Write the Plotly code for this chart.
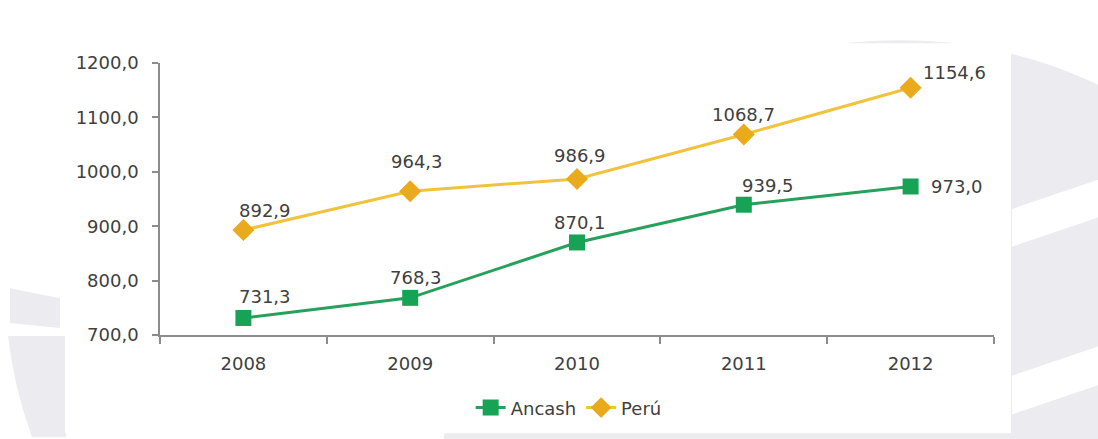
import plotly.graph_objects as go

# Series data
years = ["2008", "2009", "2010", "2011", "2012"]
ancash = [731.3, 768.3, 870.1, 939.5, 973.0]
peru = [892.9, 964.3, 986.9, 1068.7, 1154.6]
y_ticks = [700, 800, 900, 1000, 1100, 1200]

GREEN = "#17a356"
GREEN_LINE = "#27a05c"
GOLD = "#e9aa1c"
GOLD_LINE = "#f1c23d"
TEXT = "#404040"
AXIS = "#8c8c8c"
FONT = "DejaVu Sans"

xpos = list(range(len(years)))

fig = go.Figure()
fig.add_trace(go.Scatter(
    x=xpos, y=ancash, name="Ancash", mode="lines+markers",
    line=dict(color=GREEN_LINE, width=3),
    marker=dict(symbol="square", size=16, color=GREEN),
))
fig.add_trace(go.Scatter(
    x=xpos, y=peru, name="Perú", mode="lines+markers",
    line=dict(color=GOLD_LINE, width=3),
    marker=dict(symbol="diamond", size=17, color=GOLD),
))


def fmt(v):
    return f"{v:.1f}".replace(".", ",")


# pixel offsets of each value label relative to its point;
# the last year's labels sit to the right of the marker
anc_off = [(22, 21), (6, 20), (3, 20), (24, 19)]
per_off = [(22, 20), (7, 30), (3, 23), (0, 20)]
last_off = {"Ancash": (18, 0), "Perú": (10, 15)}

for name, series, offs in (("Ancash", ancash, anc_off), ("Perú", peru, per_off)):
    for i, v in enumerate(series):
        if i < len(offs):
            dx, dy = offs[i]
            anchor = "center"
        else:
            dx, dy = last_off[name]
            anchor = "left"
        fig.add_annotation(x=xpos[i], y=v, text=fmt(v), showarrow=False,
                           xanchor=anchor, xshift=dx, yshift=dy,
                           font=dict(family=FONT, size=18, color=TEXT))

# faint background emblem around the chart panel
L, R, T, B = 160, 994, 63, 337
W, H = R - L, B - T


def px(x):
    return (x - L) / W


def py(y):
    return (B - y) / H


bg = "#ebebf0"
shapes = [
    dict(type="circle", xref="paper", yref="paper", layer="below",
         x0=px(900 - 460), x1=px(900 + 460), y0=py(960), y1=py(40),
         fillcolor=bg, line=dict(width=0)),
    dict(type="path", xref="paper", yref="paper", layer="below",
         path=" ".join([
             f"M {px(1012)} {py(210)} L {px(1100)} {py(180)}",
             f"L {px(1100)} {py(218)} L {px(1012)} {py(248)} Z",
             f"M {px(1012)} {py(378)} L {px(1100)} {py(348)}",
             f"L {px(1100)} {py(387)} L {px(1012)} {py(417)} Z",
         ]),
         fillcolor="white", line=dict(width=0)),
    dict(type="path", xref="paper", yref="paper", layer="below",
         path=" ".join([
             f"M {px(8)} {py(338)} L {px(66)} {py(338)} L {px(66)} {py(440)}",
             f"L {px(32)} {py(440)} Q {px(14)} {py(390)} {px(8)} {py(338)} Z",
             f"M {px(10)} {py(290)} L {px(60)} {py(300)}",
             f"L {px(60)} {py(330)} L {px(10)} {py(325)} Z",
         ]),
         fillcolor=bg, line=dict(width=0)),
    dict(type="rect", xref="paper", yref="paper", layer="below",
         x0=px(65), x1=px(1011), y0=py(436), y1=py(43),
         fillcolor="white", line=dict(width=0)),
]

fig.update_layout(
    width=1098, height=439,
    margin=dict(l=L, r=1098 - R, t=T, b=439 - B),
    paper_bgcolor="white", plot_bgcolor="rgba(0,0,0,0)",
    separators=",.",
    showlegend=True,
    legend=dict(orientation="h", x=0.49, xanchor="center", y=-0.2, yanchor="top",
                font=dict(family=FONT, size=18, color=TEXT), itemwidth=30,
                bgcolor="rgba(0,0,0,0)"),
    shapes=shapes,
    font=dict(family=FONT, color=TEXT),
)
fig.update_xaxes(
    range=[-0.5, len(years) - 0.5], tickvals=xpos, ticktext=years,
    showgrid=False, zeroline=False,
    showline=True, linecolor=AXIS, linewidth=1.5,
    ticks="", tickfont=dict(family=FONT, size=18, color=TEXT), ticklabelstandoff=12,
    minor=dict(tick0=-0.5, dtick=1, ticks="outside", ticklen=7,
               tickcolor=AXIS, tickwidth=1.5, showgrid=False),
)
fig.update_yaxes(
    range=[700, 1200], tickvals=y_ticks, tickformat=".1f", showgrid=False,
    showline=True, linecolor=AXIS, linewidth=1.5,
    ticks="outside", ticklen=6, tickcolor=AXIS, tickwidth=1.5,
    tickfont=dict(family=FONT, size=18, color=TEXT), ticklabelstandoff=10,
    zeroline=False,
)

fig.write_html("out.html")
